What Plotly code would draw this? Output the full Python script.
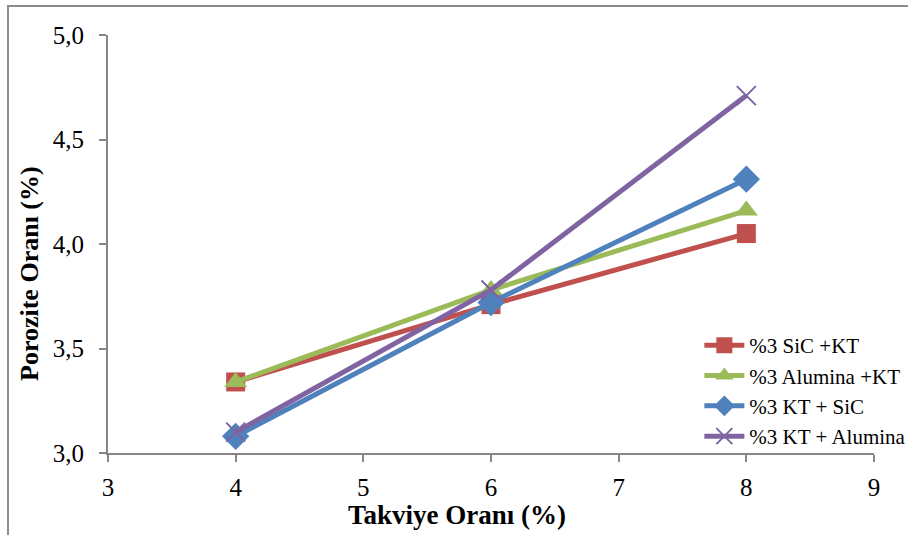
import plotly.graph_objects as go

# Reinforcement ratio (%) and porosity (%) for each composite series
takviye = [4, 6, 8]
sic_kt = [3.34, 3.71, 4.05]
alumina_kt = [3.34, 3.78, 4.16]
kt_sic = [3.08, 3.72, 4.31]
kt_alumina = [3.10, 3.78, 4.71]

series_names = ["%3 SiC +KT", "%3 Alumina +KT", "%3 KT + SiC", "%3 KT + Alumina"]
series_values = [sic_kt, alumina_kt, kt_sic, kt_alumina]
colors = ["#C0504D", "#9BBB59", "#4F81BD", "#8064A2"]
symbols = ["square", "triangle-up", "diamond", "x-thin"]
marker_sizes = [19, 20, 21, 19]

x_ticks = [3, 4, 5, 6, 7, 8, 9]
y_ticks = [3.0, 3.5, 4.0, 4.5, 5.0]

FONT = "Liberation Serif, Times New Roman, serif"
AXIS_GRAY = "#868686"

fig = go.Figure()
for name, vals, col, sym, ms in zip(series_names, series_values, colors, symbols, marker_sizes):
    fig.add_trace(go.Scatter(
        x=takviye, y=vals, name=name, mode="lines+markers",
        line=dict(color=col, width=5),
        marker=dict(symbol=sym, size=ms, color=col,
                    line=dict(color=col, width=2 if sym == "x-thin" else 0)),
    ))

W, H = 908, 535
L, R, T, B = 108, 34, 35, 82
pw, ph = W - L - R, H - T - B

# Outer chart frame (runs off the right and bottom edges)
fig.add_shape(type="rect", xref="paper", yref="paper",
              x0=(8 - L) / pw, x1=(W + 10 - L) / pw,
              y0=-(H + 10 - T - ph) / ph, y1=(H - B - 6) / ph,
              line=dict(color="#8C8C8C", width=2), layer="below")

# Axis titles placed as annotations
fig.add_annotation(text="<b>Takviye Oranı (%)</b>", xref="paper", yref="paper",
                   x=(457 - L) / pw, y=-(515 - (H - B)) / ph, showarrow=False,
                   xanchor="center", yanchor="middle",
                   font=dict(family=FONT, size=27, color="black"))
fig.add_annotation(text="<b>Porozite Oranı (%)</b>", xref="paper", yref="paper",
                   x=(29 - L) / pw, y=((H - B) - 274) / ph, showarrow=False,
                   xanchor="center", yanchor="middle", textangle=-90,
                   font=dict(family=FONT, size=26, color="black"))

fig.update_layout(
    width=W, height=H,
    margin=dict(l=L, r=R, t=T, b=B, autoexpand=False),
    paper_bgcolor="white", plot_bgcolor="white",
    separators=", ",
    font=dict(family=FONT, color="black"),
    showlegend=True,
    legend=dict(x=0.772, y=0.306, xanchor="left", yanchor="top",
                font=dict(family=FONT, size=21, color="black"),
                bgcolor="rgba(0,0,0,0)", tracegroupgap=0, itemwidth=40),
    xaxis=dict(range=[3, 9], tickvals=x_ticks, showgrid=False, zeroline=False,
               showline=True, linecolor=AXIS_GRAY, linewidth=2, automargin=False,
               ticks="outside", ticklen=7, tickcolor=AXIS_GRAY, tickwidth=2,
               tickfont=dict(family=FONT, size=25), ticklabelstandoff=4),
    yaxis=dict(range=[3, 5], tickvals=y_ticks, tickformat=".1f", showgrid=False, zeroline=False,
               showline=True, linecolor=AXIS_GRAY, linewidth=2, automargin=False,
               ticks="outside", ticklen=7, tickcolor=AXIS_GRAY, tickwidth=2,
               tickfont=dict(family=FONT, size=25), ticklabelstandoff=10),
)

fig.write_html("out.html")
